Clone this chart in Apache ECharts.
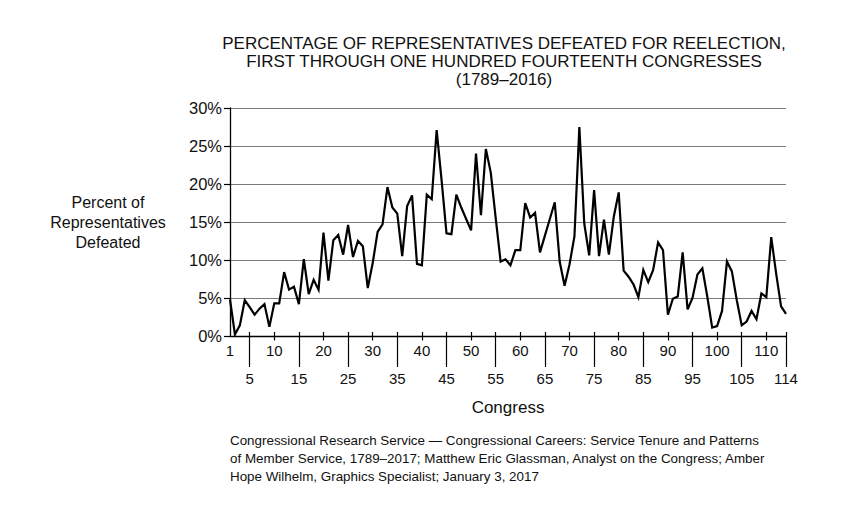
<!DOCTYPE html>
<html><head><meta charset="utf-8">
<script src="https://cdn.jsdelivr.net/npm/echarts@6/dist/echarts.min.js"></script>
<style>html,body{margin:0;padding:0;background:#fff}#c{width:849px;height:512px}</style>
</head><body><div id="c"></div>
<script>
const congressNumbers = [];
for (let i = 1; i <= 114; i++) congressNumbers.push(i);
const defeatedPct = [
 4.8, 0.2, 1.4, 4.7, 3.8, 2.8, 3.6, 4.2, 1.2, 4.3,
 4.3, 8.4, 6.1, 6.5, 4.2, 10.1, 5.5, 7.4, 6.1, 13.6,
 7.3, 12.6, 13.3, 10.7, 14.6, 10.4, 12.5, 11.8, 6.3, 9.6,
 13.7, 14.7, 19.6, 16.9, 16.1, 10.5, 17.1, 18.5, 9.5, 9.3,
 18.6, 18.0, 27.1, 20.5, 13.5, 13.4, 18.6, 16.9, 15.4, 13.9,
 24.0, 15.9, 24.6, 21.5, 15.5, 9.8, 10.1, 9.3, 11.3, 11.3,
 17.5, 15.6, 16.2, 11.0, 13.2, 15.4, 17.6, 9.8, 6.6, 9.4,
 13.1, 27.5, 14.8, 10.6, 19.2, 10.5, 15.3, 10.7, 15.7, 18.9,
 8.6, 7.8, 6.8, 5.1, 8.7, 7.1, 8.7, 12.3, 11.3, 2.8,
 4.9, 5.2, 11.0, 3.5, 5.0, 8.1, 8.9, 5.2, 1.1, 1.3,
 3.3, 9.8, 8.5, 4.7, 1.4, 1.9, 3.3, 2.2, 5.6, 5.1,
 13.0, 8.2, 3.9, 2.9
];
const upperTickLabels = [1, 10, 20, 30, 40, 50, 60, 70, 80, 90, 100, 110];
const shortTicks = [10, 20, 30, 40, 50, 60, 70, 80, 90, 100, 110];
const lowerTickLabels = [5, 15, 25, 35, 45, 55, 65, 75, 85, 95, 105, 114];

const titleLines = ['PERCENTAGE OF REPRESENTATIVES DEFEATED FOR REELECTION,', 'FIRST THROUGH ONE HUNDRED FOURTEENTH CONGRESSES', '(1789–2016)'];
const yName = ['Percent of', 'Representatives', 'Defeated'];
const xName = 'Congress';
const sourceLines = [
 'Congressional Research Service — Congressional Careers: Service Tenure and Patterns',
 'of Member Service, 1789–2017; Matthew Eric Glassman, Analyst on the Congress; Amber',
 'Hope Wilhelm, Graphics Specialist; January 3, 2017'
];

const FONT = '"Liberation Sans", Arial, Helvetica, sans-serif';
const chart = echarts.init(document.getElementById('c'), null, {renderer: 'svg'});
const seriesData = congressNumbers.map((c, i) => [c, defeatedPct[i]]);
const baseX = {type: 'value', min: 1, max: 114, position: 'bottom', splitLine: {show: false}};
const ts = (size, lh, extra) => Object.assign({fontFamily: FONT, fontSize: size, fontWeight: 'normal', color: '#111', lineHeight: lh}, extra || {});
chart.setOption({
  animation: false,
  backgroundColor: '#fff',
  title: [
    {text: titleLines.join('\n'), left: 504, top: 34.5, textAlign: 'center', padding: 0,
     textStyle: ts(17, 18, {align: 'center'})},
    {text: yName.join('\n'), left: 108, top: 192, textAlign: 'center', padding: 0,
     textStyle: ts(16, 20, {align: 'center'})},
    {text: xName, left: 508, top: 397, textAlign: 'center', padding: 0,
     textStyle: ts(17, 20)},
    {text: sourceLines.join('\n'), left: 230, top: 431, padding: 0,
     textStyle: ts(13.4, 18)}
  ],
  grid: {left: 230, right: 63, top: 108, bottom: 176},
  xAxis: [
    Object.assign({}, baseX, {
      axisLine: {show: true, lineStyle: {color: '#000', width: 1.3}},
      axisTick: {show: true, customValues: shortTicks, length: 4.5, lineStyle: {color: '#000', width: 1.2}},
      axisLabel: {show: true, customValues: upperTickLabels, margin: 7, color: '#111', fontSize: 15, fontFamily: FONT}
    }),
    Object.assign({}, baseX, {
      axisLine: {show: false},
      axisTick: {show: true, customValues: lowerTickLabels, length: 31, lineStyle: {color: '#000', width: 1.2}},
      axisLabel: {show: true, customValues: lowerTickLabels, margin: 35, color: '#111', fontSize: 15, fontFamily: FONT}
    }),
    Object.assign({}, baseX, {
      axisLine: {show: false},
      axisTick: {show: true, inside: true, customValues: shortTicks.concat(lowerTickLabels), length: 4, lineStyle: {color: '#000', width: 1.2}},
      axisLabel: {show: false}
    })
  ],
  yAxis: {
    type: 'value', min: 0, max: 30, interval: 5,
    axisLine: {show: true, lineStyle: {color: '#000', width: 1.3}},
    axisTick: {show: true, length: 6, lineStyle: {color: '#000', width: 1.2}},
    axisLabel: {margin: 8, color: '#111', fontSize: 16.5, fontFamily: FONT, formatter: '{value}%'},
    splitLine: {show: true, lineStyle: {color: '#7a7a7a', width: 1}}
  },
  series: [{
    type: 'line', xAxisIndex: 0, data: seriesData, showSymbol: false, symbol: 'none',
    lineStyle: {color: '#000', width: 2.2, join: 'miter'}, z: 5
  }]
});
</script></body></html>
